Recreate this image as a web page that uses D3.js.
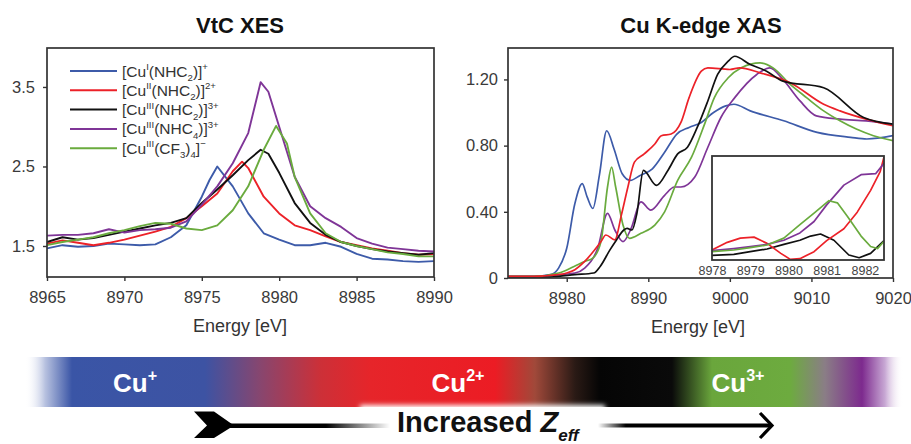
<!DOCTYPE html>
<html>
<head>
	<meta charset="utf-8">
	<title>VtC XES and Cu K-edge XAS</title>
	<script src="https://d3js.org/d3.v7.min.js"></script>
	<style>
		body { margin: 0; background: #fff; }
		text { font-family: "Liberation Sans", Arial, sans-serif; }
	</style>
	<script type="text/javascript">
		// legend labels, ^{} = superscript, _{} = subscript
		var seriesNames = [
			"[Cu^{I}(NHC_{2})]^{+}",
			"[Cu^{II}(NHC_{2})]^{2+}",
			"[Cu^{III}(NHC_{2})]^{3+}",
			"[Cu^{III}(NHC_{4})]^{3+}",
			"[Cu^{III}(CF_{3})_{4}]^{\u2212}"
		];
		var seriesColors = ["#3d5ba9", "#ec2128", "#111111", "#7f3597", "#6aab3e"];

		// VtC XES, [energy eV, intensity]
		var xesCu1 = [[8965,1.47],[8966,1.51],[8967,1.49],[8968,1.50],[8969,1.53],[8970,1.52],[8971,1.51],[8972,1.52],[8973,1.61],[8974,1.76],[8975,2.12],[8975.5,2.33],[8976,2.50],[8977,2.25],[8978,1.91],[8979,1.66],[8980,1.58],[8981,1.51],[8982,1.51],[8983,1.54],[8984,1.49],[8985,1.40],[8986,1.34],[8987,1.33],[8988,1.31],[8989,1.30],[8990,1.31]];
		var xesCu2 = [[8965,1.53],[8966,1.57],[8967,1.54],[8968,1.51],[8969,1.54],[8970,1.58],[8971,1.63],[8972,1.68],[8973,1.74],[8974,1.85],[8975,2.00],[8976,2.16],[8977,2.44],[8977.6,2.56],[8978,2.48],[8979,2.12],[8980,1.91],[8981,1.76],[8982,1.70],[8983,1.62],[8984,1.55],[8985,1.51],[8986,1.47],[8987,1.44],[8988,1.41],[8989,1.39],[8990,1.40]];
		var xesCu3 = [[8965,1.55],[8966,1.61],[8967,1.58],[8968,1.60],[8969,1.64],[8970,1.68],[8971,1.72],[8972,1.76],[8973,1.79],[8974,1.85],[8975,2.04],[8976,2.21],[8977,2.39],[8978,2.58],[8978.8,2.71],[8979.3,2.66],[8980,2.42],[8981,2.04],[8982,1.79],[8983,1.64],[8984,1.55],[8985,1.50],[8986,1.46],[8987,1.43],[8988,1.41],[8989,1.39],[8990,1.41]];
		var xesCu3b = [[8965,1.63],[8966,1.64],[8967,1.64],[8968,1.66],[8969,1.71],[8969.5,1.69],[8970,1.67],[8971,1.70],[8972,1.71],[8973,1.73],[8974,1.81],[8975,2.02],[8976,2.25],[8977,2.54],[8978,2.92],[8978.8,3.56],[8979.3,3.44],[8980,3.00],[8981,2.37],[8982,2.00],[8983,1.85],[8984,1.74],[8985,1.60],[8986,1.53],[8987,1.48],[8988,1.46],[8989,1.44],[8990,1.43]];
		var xesCu3c = [[8965,1.51],[8966,1.55],[8967,1.58],[8968,1.61],[8969,1.66],[8970,1.70],[8971,1.75],[8972,1.79],[8973,1.78],[8974,1.72],[8975,1.70],[8976,1.76],[8977,1.95],[8978,2.25],[8979,2.71],[8979.8,3.01],[8980.5,2.79],[8981,2.37],[8982,1.91],[8983,1.66],[8984,1.55],[8985,1.50],[8986,1.46],[8987,1.42],[8988,1.40],[8989,1.37],[8990,1.37]];

		// Cu K-edge XAS, [energy eV, normalized absorption]
		var xasCu1 = [[8972.8,0.01],[8976,0.01],[8978,0.02],[8979,0.06],[8980,0.18],[8981,0.45],[8981.9,0.57],[8982.5,0.49],[8983.2,0.42],[8984,0.62],[8984.9,0.89],[8985.8,0.78],[8986.8,0.63],[8987.8,0.59],[8989,0.62],[8990.5,0.66],[8992,0.76],[8993.5,0.87],[8995,0.91],[8996.5,0.94],[8998,1.00],[8999.5,1.04],[9000.5,1.05],[9002.5,1.01],[9006.6,0.95],[9010.7,0.88],[9014.8,0.85],[9016.8,0.84],[9020,0.86]];
		var xasCu2 = [[8972.8,0.01],[8976,0.01],[8979,0.02],[8980,0.03],[8981,0.05],[8982.2,0.10],[8984.2,0.22],[8984.8,0.26],[8985.9,0.23],[8986.7,0.38],[8987.5,0.55],[8988.3,0.70],[8989.5,0.75],[8990.8,0.81],[8991.6,0.86],[8992.8,0.87],[8994,0.94],[8995,1.09],[8996.5,1.25],[8997.3,1.27],[9000,1.26],[9001.2,1.27],[9003.7,1.24],[9007.4,1.18],[9011.5,1.05],[9013.5,1.01],[9016.7,0.96],[9020,0.92]];
		var xasCu3 = [[8972.8,0.00],[8976,0.00],[8979,0.01],[8981,0.02],[8983.3,0.03],[8984.1,0.07],[8985.3,0.17],[8986.1,0.23],[8987,0.29],[8987.4,0.30],[8988,0.29],[8988.6,0.39],[8989.4,0.65],[8991,0.56],[8992.4,0.65],[8993.6,0.75],[8994.8,0.79],[8996,0.91],[8997.3,1.07],[8998.5,1.23],[8999.8,1.31],[9000.6,1.34],[9002.5,1.29],[9004.5,1.25],[9006.5,1.19],[9011.5,1.15],[9016.4,0.97],[9020,0.93]];
		var xasCu3b = [[8972.8,0.01],[8976,0.01],[8979,0.02],[8981,0.03],[8982.2,0.06],[8983.8,0.18],[8985,0.39],[8985.9,0.29],[8986.9,0.22],[8987.9,0.30],[8989.1,0.46],[8990.3,0.41],[8992,0.50],[8993.2,0.55],[8994,0.55],[8995.7,0.61],[8997.3,0.79],[8998.9,0.97],[9000.6,1.09],[9003.3,1.23],[9004.9,1.27],[9006.5,1.20],[9008.6,1.07],[9010.6,0.98],[9013.5,0.96],[9016.7,0.95],[9020,0.93]];
		var xasCu3c = [[8972.8,0.01],[8976,0.01],[8979,0.03],[8980.9,0.07],[8982.2,0.10],[8983.2,0.12],[8984.2,0.22],[8985,0.55],[8985.5,0.67],[8986,0.55],[8986.9,0.32],[8987.7,0.24],[8989.1,0.27],[8990.8,0.32],[8992,0.40],[8993.6,0.59],[8995.3,0.73],[8996.9,0.93],[8998.1,1.09],[8999.8,1.21],[9001.4,1.27],[9003.7,1.30],[9005.3,1.27],[9007.4,1.17],[9009.4,1.09],[9011.5,1.01],[9013.5,0.95],[9015.5,0.90],[9017.6,0.86],[9020,0.83]];

		// pre-edge inset (no blue trace in the inset)
		var preCu2 = [[8978,0.0096],[8978.4,0.017],[8978.74,0.021],[8979.1,0.022],[8979.44,0.016],[8979.8,0.0064],[8980.05,0.0006],[8980.3,0.0013],[8980.67,0.008],[8981,0.0186],[8981.45,0.030],[8981.8,0.046],[8982.15,0.067],[8982.4,0.085],[8982.5,0.099]];
		var preCu3 = [[8978,0.0045],[8978.57,0.0054],[8979,0.008],[8979.44,0.0106],[8979.88,0.015],[8980.3,0.019],[8980.58,0.023],[8980.84,0.025],[8981.19,0.019],[8981.58,0.0048],[8981.85,0.0022],[8982.15,0.0064],[8982.5,0.0186]];
		var preCu3b = [[8978,0.009],[8978.57,0.011],[8979,0.0128],[8979.44,0.015],[8979.88,0.019],[8980.3,0.026],[8980.67,0.037],[8981,0.053],[8981.45,0.072],[8981.9,0.082],[8982.28,0.083],[8982.5,0.093]];
		var preCu3c = [[8978,0.008],[8978.57,0.0096],[8979,0.0119],[8979.44,0.0144],[8979.88,0.021],[8980.3,0.034],[8980.67,0.045],[8981.06,0.057],[8981.28,0.055],[8981.54,0.042],[8981.9,0.023],[8982.15,0.013],[8982.33,0.011],[8982.5,0.018]];

		var xesTicksX = [8965, 8970, 8975, 8980, 8985, 8990];
		var xesTicksY = [1.5, 2.5, 3.5];
		var xasTicksX = [8980, 8990, 9000, 9010, 9020];
		var xasTicksY = [0, 0.4, 0.8, 1.2];
		var xasTickLabelsY = ["0", "0.40", "0.80", "1.20"];
		var insetTicksX = [8978, 8979, 8980, 8981, 8982];

		var oxidationLabels = ["Cu^{+}", "Cu^{2+}", "Cu^{3+}"];

		// writes "a^{b}_{c}" style strings as tspans
		function richText(sel, str, size) {
			var parts = [];
			var re = /([\^_])\{([^}]*)\}|([^\^_]+)/g, m;
			while ((m = re.exec(str)) !== null) {
				if (m[3]) parts.push({t: m[3], shift: 0});
				else parts.push({t: m[2], shift: m[1] == '^' ? -0.42 : 0.3});
			}
			var prev = 0;
			parts.forEach(function(p) {
				var dy = (p.shift - prev) * size;
				sel.append('tspan')
					.attr('dy', dy)
					.attr('font-size', p.shift == 0 ? size : size * 0.62)
					.text(p.t);
				prev = p.shift;
			});
		}

		function draw() {
			var svg = d3.select('body').append('svg')
				.attr('width', 911)
				.attr('height', 444);

			var axisColor = '#333';
			var tickColor = '#3a3a3a';

			// ---------- left panel: VtC XES ----------
			var xL = d3.scaleLinear().domain([8965, 8990]).range([47, 434]);
			var yL = d3.scaleLinear().domain([1.11, 3.99]).range([277, 48]);

			svg.append('clipPath').attr('id', 'clipL').append('rect')
				.attr('x', 47).attr('y', 48).attr('width', 387).attr('height', 229);

			var gx = svg.append('g').attr('transform', 'translate(0,277)')
				.call(d3.axisBottom(xL).tickValues(xesTicksX).tickSize(4).tickPadding(10).tickFormat(d3.format('d')));
			var gy = svg.append('g').attr('transform', 'translate(47,0)')
				.call(d3.axisLeft(yL).tickValues(xesTicksY).tickSize(4).tickPadding(8).tickFormat(d3.format('.1f')));
			[gx, gy].forEach(function(g) {
				g.select('.domain').remove();
				g.selectAll('line').attr('stroke', axisColor).attr('stroke-width', 1.4);
				g.selectAll('text').attr('fill', tickColor).attr('font-size', 16.5).attr('font-family', '"Liberation Sans", Arial, sans-serif');
			});

			var lineL = d3.line().x(function(d) { return xL(d[0]); }).y(function(d) { return yL(d[1]); });
			var xesSeries = [xesCu1, xesCu2, xesCu3, xesCu3b, xesCu3c];
			svg.append('g').attr('clip-path', 'url(#clipL)')
				.selectAll('path').data(xesSeries).enter().append('path')
				.attr('d', lineL)
				.attr('fill', 'none')
				.attr('stroke', function(d, i) { return seriesColors[i]; })
				.attr('stroke-width', 1.9)
				.attr('stroke-linejoin', 'round');

			svg.append('rect').attr('x', 47).attr('y', 48).attr('width', 387).attr('height', 229)
				.attr('fill', 'none').attr('stroke', axisColor).attr('stroke-width', 1.7);

			// legend
			var leg = svg.append('g');
			seriesNames.forEach(function(name, i) {
				var y = 71 + i * 19.3;
				leg.append('line').attr('x1', 70).attr('x2', 117).attr('y1', y).attr('y2', y)
					.attr('stroke', seriesColors[i]).attr('stroke-width', 2);
				var t = leg.append('text').attr('x', 122).attr('y', y + 5.5).attr('fill', '#333');
				richText(t, name, 15.5);
			});

			svg.append('text').attr('x', 240).attr('y', 33).attr('text-anchor', 'middle')
				.attr('font-size', 22).attr('font-weight', 'bold').attr('fill', '#111').text('VtC XES');
			svg.append('text').attr('x', 240).attr('y', 332).attr('text-anchor', 'middle')
				.attr('font-size', 18).attr('fill', '#333').text('Energy [eV]');

			// ---------- right panel: Cu K-edge XAS ----------
			var xR = d3.scaleLinear().domain([8972.8, 9020]).range([508, 893]);
			var yR = d3.scaleLinear().domain([0, 1.39]).range([278, 48]);

			svg.append('clipPath').attr('id', 'clipR').append('rect')
				.attr('x', 508).attr('y', 48).attr('width', 385).attr('height', 230);

			var gx2 = svg.append('g').attr('transform', 'translate(0,278)')
				.call(d3.axisBottom(xR).tickValues(xasTicksX).tickSize(4).tickPadding(10).tickFormat(d3.format('d')));
			var gy2 = svg.append('g').attr('transform', 'translate(508,0)')
				.call(d3.axisLeft(yR).tickValues(xasTicksY).tickSize(4).tickPadding(6)
					.tickFormat(function(d, i) { return xasTickLabelsY[i]; }));
			[gx2, gy2].forEach(function(g) {
				g.select('.domain').remove();
				g.selectAll('line').attr('stroke', axisColor).attr('stroke-width', 1.4);
				g.selectAll('text').attr('fill', tickColor).attr('font-size', 16.5).attr('font-family', '"Liberation Sans", Arial, sans-serif');
			});

			var lineR = d3.line().curve(d3.curveMonotoneX)
				.x(function(d) { return xR(d[0]); }).y(function(d) { return yR(d[1]); });
			var xasSeries = [xasCu1, xasCu3b, xasCu3c, xasCu2, xasCu3];
			var xasColors = [seriesColors[0], seriesColors[3], seriesColors[4], seriesColors[1], seriesColors[2]];
			svg.append('g').attr('clip-path', 'url(#clipR)')
				.selectAll('path').data(xasSeries).enter().append('path')
				.attr('d', lineR)
				.attr('fill', 'none')
				.attr('stroke', function(d, i) { return xasColors[i]; })
				.attr('stroke-width', 1.7);

			svg.append('rect').attr('x', 508).attr('y', 48).attr('width', 385).attr('height', 230)
				.attr('fill', 'none').attr('stroke', axisColor).attr('stroke-width', 1.7);

			// inset
			var xI = d3.scaleLinear().domain([8978, 8982.5]).range([712, 884]);
			var yI = d3.scaleLinear().domain([0, 0.1]).range([260, 156]);
			svg.append('clipPath').attr('id', 'clipI').append('rect')
				.attr('x', 712).attr('y', 156).attr('width', 172).attr('height', 104);
			svg.append('rect').attr('x', 712).attr('y', 156).attr('width', 172).attr('height', 104)
				.attr('fill', '#fff');
			var lineI = d3.line().x(function(d) { return xI(d[0]); }).y(function(d) { return yI(d[1]); });
			var preSeries = [preCu3, preCu2, preCu3b, preCu3c];
			var preColors = [seriesColors[2], seriesColors[1], seriesColors[3], seriesColors[4]];
			svg.append('g').attr('clip-path', 'url(#clipI)')
				.selectAll('path').data(preSeries).enter().append('path')
				.attr('d', lineI)
				.attr('fill', 'none')
				.attr('stroke', function(d, i) { return preColors[i]; })
				.attr('stroke-width', 1.7)
				.attr('stroke-linejoin', 'round');
			svg.append('rect').attr('x', 712).attr('y', 156).attr('width', 172).attr('height', 104)
				.attr('fill', 'none').attr('stroke', axisColor).attr('stroke-width', 1.8);
			var gi = svg.append('g').attr('transform', 'translate(0,260)')
				.call(d3.axisBottom(xI).tickValues(insetTicksX).tickSize(0).tickPadding(6).tickFormat(d3.format('d')));
			gi.select('.domain').remove();
			gi.selectAll('text').attr('fill', '#444').attr('font-size', 12.5).attr('font-family', '"Liberation Sans", Arial, sans-serif');

			svg.append('text').attr('x', 701).attr('y', 33).attr('text-anchor', 'middle')
				.attr('font-size', 22).attr('font-weight', 'bold').attr('fill', '#111').text('Cu K-edge XAS');
			svg.append('text').attr('x', 698).attr('y', 333).attr('text-anchor', 'middle')
				.attr('font-size', 18).attr('fill', '#333').text('Energy [eV]');

			// ---------- oxidation-state colour bar ----------
			var defs = svg.append('defs');
			var grad = defs.append('linearGradient').attr('id', 'barGrad')
				.attr('gradientUnits', 'userSpaceOnUse').attr('x1', 20).attr('x2', 905).attr('y1', 0).attr('y2', 0);
			[[25, '#ffffff', 0], [45, '#b8c2e0', 1], [72, '#3a55a6', 1], [205, '#3d53a3', 1], [260, '#87466f', 1],
			 [320, '#cc3038', 1], [370, '#e6252a', 1], [495, '#ec1c24', 1], [535, '#a0493a', 1], [575, '#2a1a15', 1],
			 [600, '#050505', 1], [672, '#0a0a0a', 1], [712, '#6aa63c', 1], [790, '#6dab3f', 1], [825, '#8a7d86', 1],
			 [862, '#7d2a8e', 1], [885, '#c8a8d4', 1], [903, '#ffffff', 0]
			].forEach(function(s) {
				grad.append('stop').attr('offset', (s[0] - 20) / 885).attr('stop-color', s[1]).attr('stop-opacity', s[2]);
			});
			svg.append('rect').attr('x', 20).attr('y', 357).attr('width', 885).attr('height', 50)
				.attr('fill', 'url(#barGrad)');

			var barX = [135, 458, 738];
			oxidationLabels.forEach(function(lab, i) {
				var t = svg.append('text').attr('x', barX[i]).attr('y', 392).attr('text-anchor', 'middle')
					.attr('fill', '#fff').attr('font-weight', 'bold');
				richText(t, lab, 26);
			});

			// white halo behind the arrow text
			var blur = defs.append('filter').attr('id', 'soft').attr('x', -0.2).attr('y', -0.5).attr('width', 1.4).attr('height', 2);
			blur.append('feGaussianBlur').attr('stdDeviation', 2.5);
			svg.append('rect').attr('x', 360).attr('y', 405).attr('width', 245).attr('height', 45)
				.attr('fill', '#fff').attr('filter', 'url(#soft)');

			// arrow
			var lgL = defs.append('linearGradient').attr('id', 'fadeL')
				.attr('gradientUnits', 'userSpaceOnUse').attr('x1', 230).attr('x2', 390).attr('y1', 0).attr('y2', 0);
			lgL.append('stop').attr('offset', 0.6).attr('stop-color', '#000');
			lgL.append('stop').attr('offset', 1).attr('stop-color', '#fff');
			var lgR = defs.append('linearGradient').attr('id', 'fadeR')
				.attr('gradientUnits', 'userSpaceOnUse').attr('x1', 598).attr('x2', 772).attr('y1', 0).attr('y2', 0);
			lgR.append('stop').attr('offset', 0).attr('stop-color', '#fff');
			lgR.append('stop').attr('offset', 0.16).attr('stop-color', '#000');
			svg.append('rect').attr('x', 228).attr('y', 423.5).attr('width', 162).attr('height', 4.5).attr('fill', 'url(#fadeL)');
			svg.append('rect').attr('x', 598).attr('y', 423.5).attr('width', 172).attr('height', 4).attr('fill', 'url(#fadeR)');
			svg.append('path').attr('d', 'M194,411.5 L214,411.5 L234,425.5 L214,438 L194,438 L207,425.5 Z').attr('fill', '#000');
			svg.append('path').attr('d', 'M760,413 L772,425.5 L760,438').attr('fill', 'none')
				.attr('stroke', '#000').attr('stroke-width', 3.2);

			var zt = svg.append('text').attr('x', 397).attr('y', 432).attr('fill', '#111')
				.attr('font-size', 29).attr('font-weight', 'bold');
			zt.append('tspan').text('Increased ');
			zt.append('tspan').attr('font-style', 'italic').text('Z');
			zt.append('tspan').attr('font-style', 'italic').attr('font-size', 17).attr('dy', 9).text('eff');
		}
	</script>
</head>
<body onload="draw()">
</body>
</html>
